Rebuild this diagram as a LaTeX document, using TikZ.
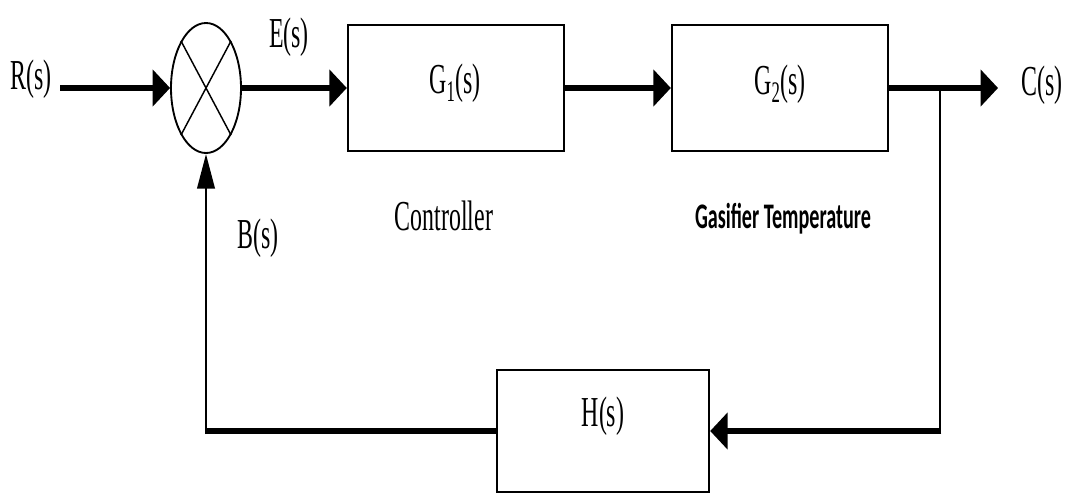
\documentclass[tikz,border=0pt]{standalone}
\usepackage{fontspec}
\setmainfont{Liberation Serif}
\newfontfamily\gasfont{Carlito}
\usepackage{graphicx}
\usetikzlibrary{arrows.meta,shapes.geometric}

% squeeze text horizontally
\newcommand{\sq}[1]{\scalebox{0.56}[1]{#1}}

\tikzset{
	blk/.style={draw, line width=1.8pt, minimum width=162pt, minimum height=94.5pt, inner sep=0pt},
	sumj/.style={draw, ellipse, line width=1.4pt, minimum width=52.5pt, minimum height=97.5pt, inner sep=0pt},
	hline/.style={line width=4.5pt},
	vline/.style={line width=2.2pt},
	harrow/.style={-{Triangle[length=13pt,width=27pt]}},
	varrow/.style={-{Triangle[length=26pt,width=13pt]}},
	lbl/.style={inner sep=0pt, font=\fontsize{32}{36}\selectfont},
	gaslbl/.style={inner sep=0pt, font=\gasfont\bfseries\fontsize{27}{30}\selectfont}
}

\begin{document}
\begin{tikzpicture}[x=0.75pt, y=-0.75pt]
		\useasboundingbox (0,0) rectangle (1066,493);
		
		% Summing junction
		\node[sumj] (sum) at (206,88) {};
		\draw[line width=1.1pt] (sum.62) -- (sum.242);
		\draw[line width=1.1pt] (sum.118) -- (sum.298);
		
		% Blocks
		\node[blk] (g1) at (456,88) {};
		\node[blk] (g2) at (780,88) {};
		\node[blk, minimum width=159pt, minimum height=91.5pt] (h) at (603,431) {};
		
		% Block labels
		\node[lbl] (g1name) at (455,83) {\sq{G\textsubscript{1}(s)}};
		\node[lbl] (g2name) at (780,84) {\sq{G\textsubscript{2}(s)}};
		\node[lbl] (hname) at (603,416) {\sq{H(s)}};
		\node[lbl] (ctrl) at (444,216) {\sq{Controller}};
		\node[gaslbl] (gas) at (783,219) {\sq{Gasifier Temperature}};
		
		% Signal labels
		\node[lbl] (rs) at (31,79) {\sq{R(s)}};
		\node[lbl] (es) at (289,37) {\sq{E(s)}};
		\node[lbl] (cs) at (1042,85) {\sq{C(s)}};
		\node[lbl] (bs) at (258,238) {\sq{B(s)}};
		
		% Forward path
		\coordinate (rin) at (60,88);
		\coordinate (br) at (940,88);
		\coordinate (cout) at (998,88);
		\draw[hline, harrow] (rin) -- (sum.west);
		\draw[hline, harrow] (sum.east) -- (g1.west);
		\draw[hline, harrow] (g1.east) -- (g2.west);
		\draw[hline, harrow] (g2.east) -- (cout);
		
		% Feedback path
		\coordinate (fbr) at (br |- h.east);
		\coordinate (fbl) at (sum |- h.west);
		\draw[vline] (br) -- ([yshift=-2.25pt]fbr);
		\draw[hline, harrow] ([xshift=1.1pt]fbr) -- (h.east);
		\draw[hline] (h.west) -- ([xshift=-1.1pt]fbl);
		\draw[vline, varrow] ([yshift=-2.25pt]fbl) -- (sum.south);
		
\end{tikzpicture}
\end{document}
